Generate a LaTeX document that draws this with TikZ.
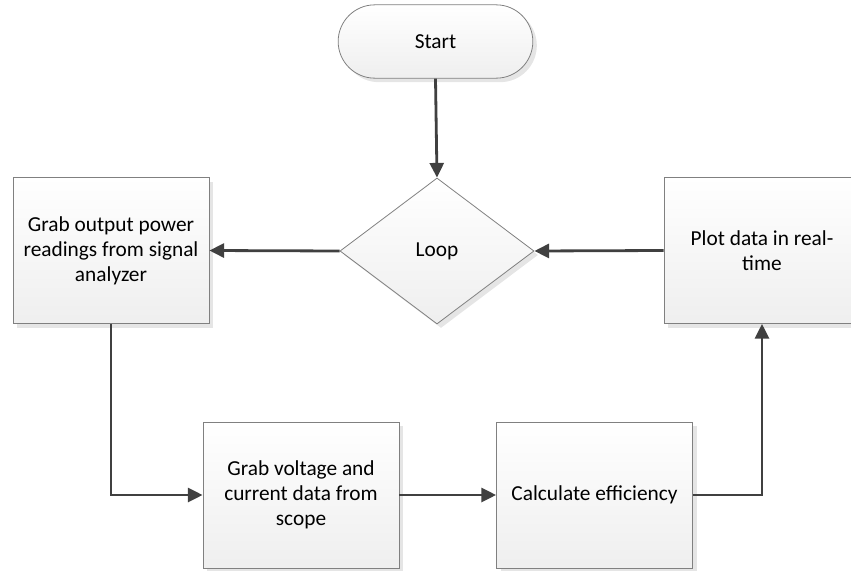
\documentclass[tikz,border=0pt]{standalone}
\usepackage{fontspec}
\setmainfont{Carlito}
\usetikzlibrary{shapes.geometric,shapes.misc,shadows,arrows.meta}
\definecolor{linegray}{HTML}{404040}
\definecolor{edgegray}{HTML}{808080}
\tikzset{
    block/.style={draw=edgegray, line width=0.6pt, top color=white, bottom color=gray!13,
        drop shadow={shadow xshift=3pt, shadow yshift=-3pt, fill=gray!20, opacity=1},
        align=center, inner sep=0pt, font=\fontsize{16}{18.75}\selectfont},
    stepbox/.style={block, rectangle, minimum width=147pt, minimum height=109.5pt},
    termbox/.style={block, rounded rectangle, minimum width=146pt, minimum height=55pt},
    decbox/.style={block, diamond, minimum width=145.5pt, minimum height=109.5pt},
    flow/.style={draw=linegray, line width=2.1pt, -{Triangle[length=11pt,width=10.5pt]}}
}
\begin{document}
\begin{tikzpicture}[x=0.75pt, y=-0.75pt]
    \useasboundingbox (0,0) rectangle (851,571);
    % nodes
    \node[termbox] (start) at (435.5,41.5) {Start};
    \node[decbox] (loop) at (437,251) {Loop};
    \node[stepbox] (grabpwr) at (111,250.5) {Grab output power\\readings from signal\\analyzer};
    \node[stepbox] (plot) at (762,250.5) {Plot data in real-\\time};
    \node[stepbox] (grabvi) at (301,495) {Grab voltage and\\current data from\\scope};
    \node[stepbox] (calc) at (594.5,495) {Calculate efficiency};
    % connectors
    \draw[flow] (start.south) -- (loop.north);
    \draw[flow] (loop.west) -- (grabpwr.east);
    \draw[flow] (plot.west) -- (loop.east);
    \draw[flow] (grabpwr.south) |- (grabvi.west);
    \draw[flow] (grabvi.east) -- (calc.west);
    \draw[flow] (calc.east) -| (plot.south);
\end{tikzpicture}
\end{document}
